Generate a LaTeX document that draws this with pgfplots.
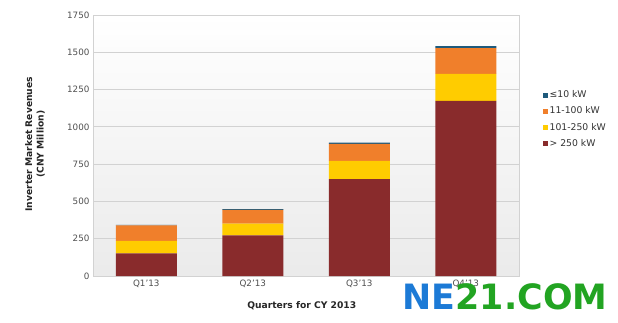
\documentclass[border=0pt]{standalone}
\usepackage{pgfplots}
\pgfplotsset{compat=1.18}
\usepackage{fontspec}
\setmainfont{DejaVu Sans}
\definecolor{cRed}{HTML}{892B2C}
\definecolor{cYel}{HTML}{FFCC00}
\definecolor{cOra}{HTML}{F07F2B}
\definecolor{cBlu}{HTML}{1E5A7C}
\definecolor{tickc}{HTML}{505050}
\definecolor{gridc}{HTML}{D2D2D2}
\definecolor{neblue}{HTML}{1C7AD6}
\definecolor{negreen}{HTML}{22A422}
\begin{document}
\begin{tikzpicture}[x=1bp,y=1bp]
\useasboundingbox (0,0) rectangle (618,322);
\fill[white] (0,0) rectangle (618,322);
\begin{axis}[at={(93bp,46bp)}, anchor=south west, scale only axis,
  width=426bp, height=261bp,
  ybar stacked, bar width=61bp,
  xmin=-0.5, xmax=3.5, ymin=0, ymax=1750,
  ytick={0,250,...,1750}, xtick={0,1,2,3},
  xticklabels={Q1'13,Q2'13,Q3'13,Q4'13},
  ymajorgrids, grid style={gridc, line width=0.8bp},
  axis line style={gridc}, major tick length=0pt,
  tick label style={font=\fontsize{8.8}{10}\selectfont, text=tickc},
  /pgf/number format/assume math mode=true,
  /pgf/number format/1000 sep={},
  axis background/.style={top color=white, bottom color=black!8},
  ylabel={Inverter Market Revenues\\(CNY Million)},
  ylabel style={at={(axis description cs:-0.136,0.505)}, anchor=center, align=center,
    font=\fontsize{9.2}{11.5}\selectfont\bfseries, text=black!85},
  xlabel={Quarters for CY 2013},
  xlabel style={at={(axis description cs:0.49,-0.115)}, anchor=center,
    font=\fontsize{9.2}{10}\selectfont\bfseries, text=black!85},
  legend style={at={(axis description cs:1.055,0.718)}, anchor=north west,
    draw=none, fill=none, font=\fontsize{9.3}{10}\selectfont, text=black!80,
    row sep=3.6bp, inner sep=0pt,
    /tikz/every even column/.append style={column sep=2bp}},
  legend cell align=left, reverse legend,
  legend image code/.code={\fill[#1] (0.5bp,-2.5bp) rectangle (5.5bp,2.5bp);},
  every axis plot/.append style={draw=none},
]
\addplot[fill=cRed] coordinates {(0,152) (1,273) (2,649) (3,1174)};
\addplot[fill=cYel] coordinates {(0,83) (1,78) (2,123) (3,181)};
\addplot[fill=cOra] coordinates {(0,105) (1,92) (2,114) (3,173)};
\addplot[fill=cBlu] coordinates {(0,2) (1,5) (2,8) (3,13)};
\legend{> 250 kW, 101-250 kW, 11-100 kW, ≤10 kW}
\end{axis}
\node[font=\fontsize{35}{35}\selectfont\bfseries, inner sep=0pt] at (505,25)
  {\textcolor{neblue}{NE}\textcolor{negreen}{21.COM}};
\end{tikzpicture}
\end{document}
